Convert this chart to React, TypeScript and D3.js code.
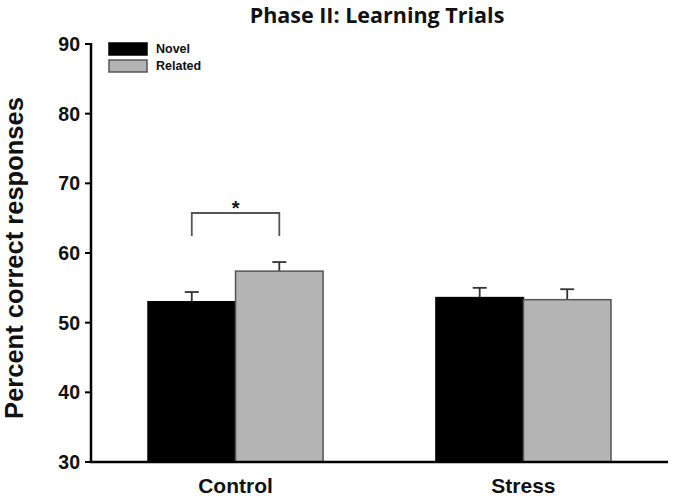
import React from "react";
import * as d3 from "d3";

const groups = ["Control", "Stress"];
const seriesNames = ["Novel", "Related"];
const novelMeans = [53.0, 53.6];
const novelErr = [1.4, 1.4];
const relatedMeans = [57.4, 53.3];
const relatedErr = [1.3, 1.5];
const yTicks = [30, 40, 50, 60, 70, 80, 90];
const colors = ["#000000", "#b4b4b4"];
const strokes = ["#000000", "#555555"];

export default function App() {
  const W = 674, H = 499;
  const x0 = 91, x1 = 668;
  const y = d3.scaleLinear().domain([30, 90]).range([462, 44]);
  const xg = d3.scaleBand().domain(groups).range([x0, x1]).paddingInner(0.392).paddingOuter(0.198);
  const xs = d3.scaleBand().domain(seriesNames).range([0, xg.bandwidth()]);
  const means = [novelMeans, relatedMeans];
  const errs = [novelErr, relatedErr];
  const font = "Arial, 'Liberation Sans', sans-serif";

  const cx = xg("Control")!;
  const bL = cx + xs("Novel")! + xs.bandwidth() / 2;
  const bR = cx + xs("Related")! + xs.bandwidth() / 2;

  return (
    <svg width={W} height={H} style={{ position: "absolute", left: 0, top: 0, background: "#fff" }}>
      <text x={377} y={23} textAnchor="middle" fontFamily="'Open Sans', 'Noto Sans', sans-serif" fontWeight="bold" fontSize={21.5} fill="#111">
        Phase II: Learning Trials
      </text>
      <text transform={`translate(23, ${258}) rotate(-90)`} textAnchor="middle" fontFamily={font} fontWeight="bold" fontSize={25.5} fill="#111">
        Percent correct responses
      </text>
      {groups.map((g, gi) =>
        seriesNames.map((s, si) => {
          const bx = xg(g)! + xs(s)!;
          const v = means[si][gi];
          const e = errs[si][gi];
          const mid = bx + xs.bandwidth() / 2;
          return (
            <g key={g + s}>
              <line x1={mid} x2={mid} y1={y(v)} y2={y(v + e)} stroke="#333" strokeWidth={1.8} />
              <line x1={mid - 7} x2={mid + 7} y1={y(v + e)} y2={y(v + e)} stroke="#333" strokeWidth={1.8} />
              <rect x={bx} y={y(v)} width={xs.bandwidth()} height={y(30) - y(v)} fill={colors[si]} stroke={strokes[si]} strokeWidth={1.5} />
            </g>
          );
        })
      )}
      <line x1={x0} x2={x0} y1={43} y2={463} stroke="#000" strokeWidth={2.5} />
      <line x1={x0 - 1} x2={x1} y1={462} y2={462} stroke="#000" strokeWidth={2.5} />
      {yTicks.map((t) => (
        <g key={t}>
          <line x1={x0 - 6} x2={x0} y1={y(t)} y2={y(t)} stroke="#000" strokeWidth={2} />
          <text x={80} y={y(t) + 7} textAnchor="end" fontFamily={font} fontWeight="bold" fontSize={19.5} fill="#111">
            {t}
          </text>
        </g>
      ))}
      {groups.map((g) => (
        <text key={g} x={xg(g)! + xg.bandwidth() / 2} y={493} textAnchor="middle" fontFamily={font} fontWeight="bold" fontSize={21} fill="#111">
          {g}
        </text>
      ))}
      <path d={`M${bL},${236} V${213} H${bR} V${236}`} fill="none" stroke="#555" strokeWidth={1.8} />
      <text x={(bL + bR) / 2} y={215} textAnchor="middle" fontFamily={font} fontWeight="bold" fontSize={20} fill="#111">
        *
      </text>
      {seriesNames.map((s, i) => (
        <g key={s}>
          <rect x={109} y={43 + i * 17} width={38} height={12} fill={colors[i]} stroke={strokes[i]} strokeWidth={1.5} />
          <text x={156} y={53 + i * 17} fontFamily={font} fontWeight="bold" fontSize={12.5} fill="#111">
            {s}
          </text>
        </g>
      ))}
    </svg>
  );
}
